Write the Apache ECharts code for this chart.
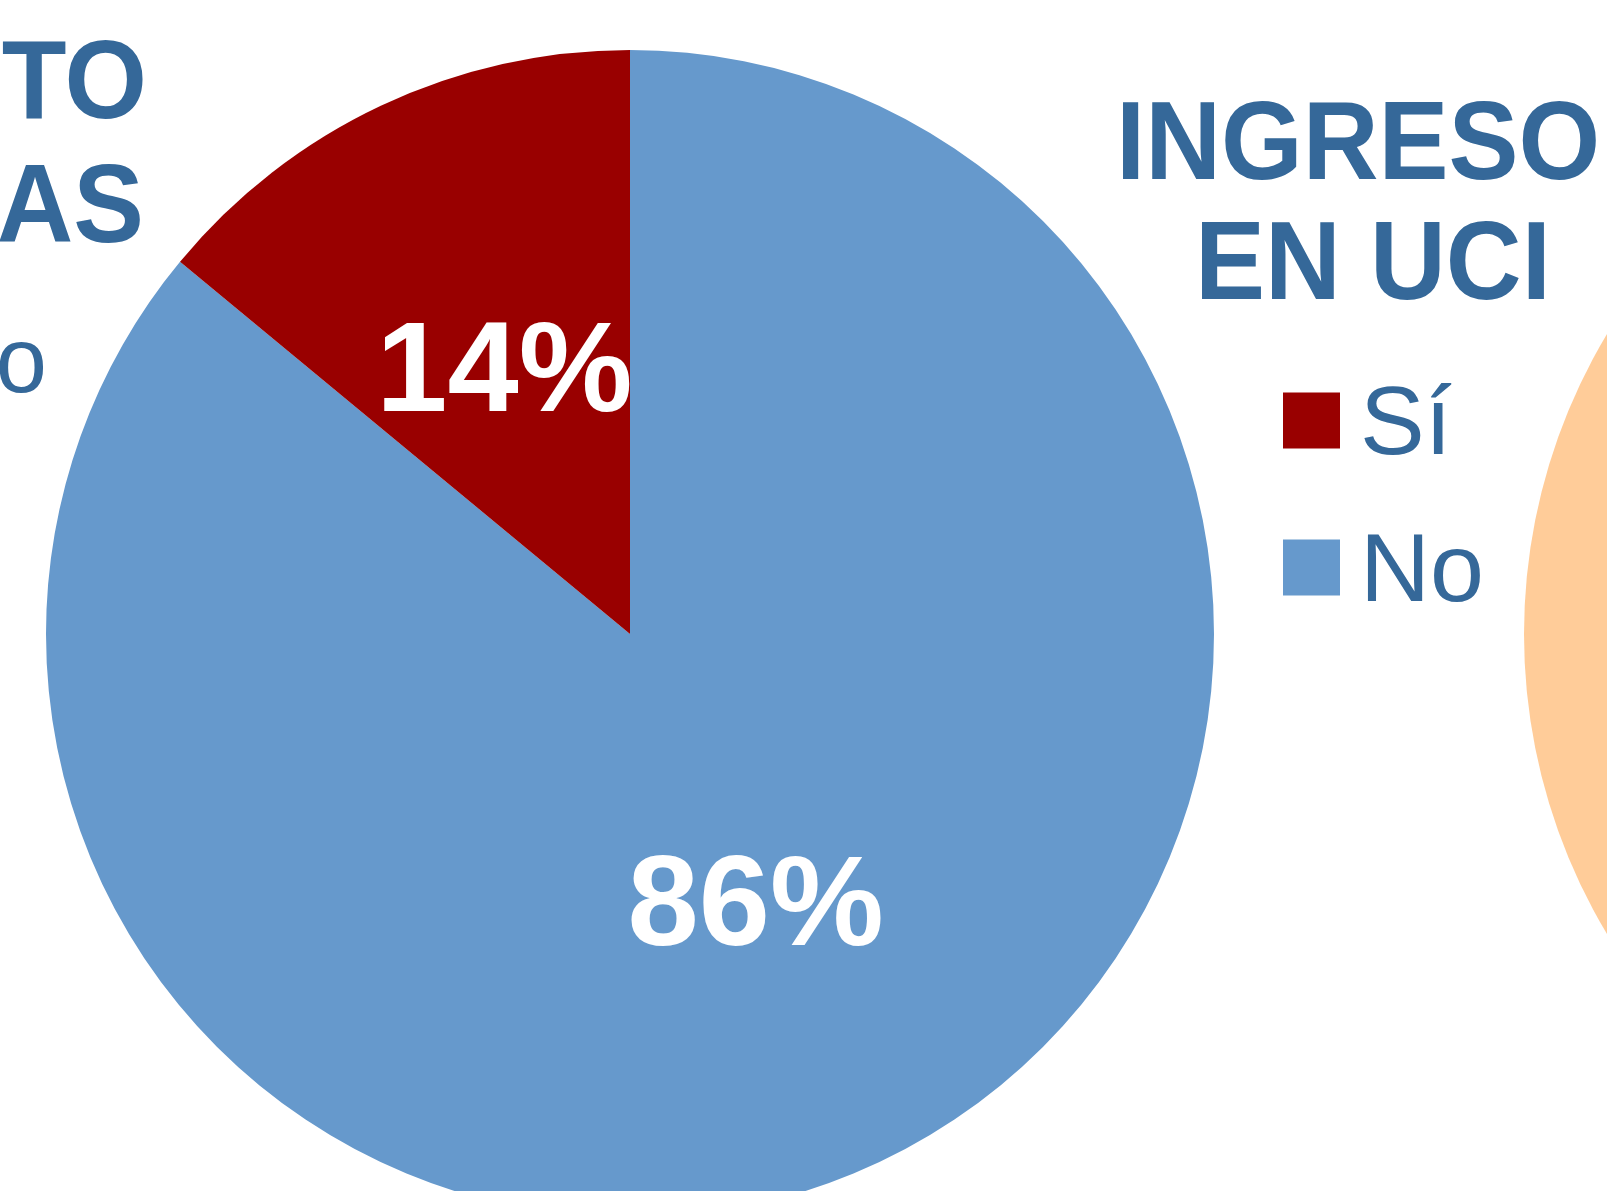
<!DOCTYPE html>
<html>
<head>
<meta charset="utf-8">
<script src="https://cdn.jsdelivr.net/npm/echarts@6/dist/echarts.min.js"></script>
<style>
html,body{margin:0;padding:0;background:#fff;overflow:hidden;}
#chart{width:1607px;height:1191px;}
</style>
</head>
<body>
<div id="chart"></div>
<script>
// Data
const categories = ['No', 'Sí'];
const values = [86, 14];
const legendOrder = ['Sí', 'No'];
const titleLines = ['INGRESO', 'EN UCI'];
const neighbourTitleLines = ['TO', 'AS'];
const neighbourLegendText = 'No';
const neighbourCategories = ['No'];
const neighbourValues = [100];

const FONT = 'Liberation Sans, Arial, sans-serif';
const BLUE_TEXT = '#356899';
const colors = {'No': '#6699CC', 'Sí': '#990000'};

const chart = echarts.init(document.getElementById('chart'), null, {renderer: 'canvas'});

function txt(text, x, y, size, bold, align, sy) {
  return {
    type: 'text', x: x, y: y, scaleY: sy, silent: true,
    style: {text: text, fill: BLUE_TEXT, fontSize: size, fontWeight: bold ? 'bold' : 'normal',
            fontFamily: FONT, textAlign: align, textVerticalAlign: 'middle'}
  };
}

const option = {
  backgroundColor: '#ffffff',
  animation: false,
  legend: {
    data: legendOrder,
    orient: 'vertical',
    left: 1283,
    top: 379,
    padding: 0,
    itemWidth: 57,
    itemHeight: 70,
    itemGap: 50,
    icon: 'path://M0,0H57V56H0Z M0,70H57',
    selectedMode: false,
    textStyle: {
      fontSize: 97,
      fontFamily: FONT,
      color: BLUE_TEXT,
      padding: [0, 0, 0, 15]
    }
  },
  series: [
    {
      type: 'pie',
      center: [630, 634],
      radius: 584,
      startAngle: 90,
      clockwise: true,
      silent: true,
      label: {
        show: true,
        position: 'inside',
        formatter: p => p.value + '%',
        color: '#ffffff',
        fontSize: 128,
        fontWeight: 'bold',
        fontFamily: FONT,
        offset: [0, 9]
      },
      labelLine: {show: false},
      emphasis: {disabled: true},
      data: categories.map((c, i) => ({name: c, value: values[i], itemStyle: {color: colors[c]}}))
    },
    {
      type: 'pie',
      center: [2108, 634],
      radius: 584,
      startAngle: 90,
      silent: true,
      label: {show: false},
      labelLine: {show: false},
      emphasis: {disabled: true},
      data: neighbourCategories.map((c, i) => ({name: 'n_' + c, value: neighbourValues[i], itemStyle: {color: '#FFCC99'}}))
    }
  ],
  graphic: [
    txt(titleLines[0], 1116, 148, 105, true, 'left', 1.06),
    txt(titleLines[1], 1195, 268, 105, true, 'left', 1.06),
    txt(neighbourTitleLines[0], 147, 87.5, 106, true, 'right', 1.055),
    txt(neighbourTitleLines[1], 144, 211.5, 106, true, 'right', 1.055),
    txt(neighbourLegendText, 47, 366.5, 92, false, 'right', 1.0)
  ]
};
chart.setOption(option);
</script>
</body>
</html>
